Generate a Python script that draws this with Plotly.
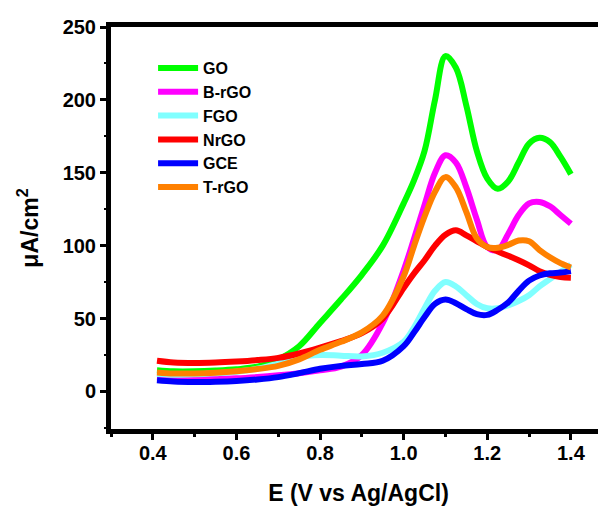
import plotly.graph_objects as go

# Potential (V vs Ag/AgCl)
E = [0.41, 0.45, 0.5, 0.55, 0.6, 0.65, 0.7, 0.75, 0.8, 0.85, 0.9, 0.95, 1.0,
     1.025, 1.05, 1.075, 1.1, 1.125, 1.15, 1.175, 1.2, 1.225, 1.25, 1.275,
     1.3, 1.325, 1.35, 1.375, 1.4]

GO = [14.5, 13.8, 13.8, 14.3, 15.2, 17, 22, 31, 47, 63, 80, 100, 129,
      145, 165, 200, 230, 222, 196, 165, 146, 139, 144, 157,
      170, 174, 171, 161, 149]
B_rGO = [9.5, 8.8, 8.6, 8.8, 9, 9.8, 11, 12.5, 14.5, 17, 25, 47, 83,
         105, 128, 150, 162, 157, 140, 118, 99, 97, 108, 121,
         129, 130, 127, 121, 115]
FGO = [12, 11.5, 11.8, 12.5, 13.5, 15.5, 19, 23.5, 25, 24.5, 24, 26.5, 34,
       44, 57, 69, 75, 72, 66, 60, 57, 57, 59, 62,
       66, 72, 77, 82, 87]
NrGO = [21, 19.8, 19.5, 19.8, 20.5, 21.5, 23, 26, 30, 34.5, 40, 50, 71,
        81, 90, 100, 107.5, 110.5, 107, 103, 99, 96, 93, 90,
        86.5, 82.5, 80, 78.5, 78]
GCE = [7.7, 6.8, 6.5, 6.7, 7.2, 8.2, 9.8, 12.5, 15.5, 17.5, 18.8, 21, 31,
       40.5, 51, 60, 63, 60.5, 56.5, 53, 52.5, 56, 61, 69,
       76, 79.5, 81, 81.5, 82.5]
T_rGO = [13, 12.3, 12.3, 12.8, 13.8, 15.3, 17.5, 22, 28.5, 34, 40.5, 52, 79,
         100, 120, 137, 147, 140, 123, 105, 99, 98.5, 100.5, 103.5,
         103, 97, 92, 88, 85]

series = [
    ("GO", GO, "#00FF00"),
    ("B-rGO", B_rGO, "#FF00FF"),
    ("FGO", FGO, "#80FFFF"),
    ("NrGO", NrGO, "#FF0000"),
    ("GCE", GCE, "#0000FF"),
    ("T-rGO", T_rGO, "#FF8000"),
]

x_ticks = [0.4, 0.6, 0.8, 1.0, 1.2, 1.4]
x_labels = ["0.4", "0.6", "0.8", "1.0", "1.2", "1.4"]
y_ticks = [0, 50, 100, 150, 200, 250]

FONT = "Liberation Sans, Arial, sans-serif"

fig = go.Figure()
for name, vals, color in series:
    fig.add_trace(go.Scatter(
        x=E, y=vals, name=name, mode="lines",
        line=dict(color=color, width=6, shape="spline", smoothing=1.0),
        hoverinfo="skip",
    ))

# the page body has an 8px margin, so the figure is shifted by 8px
fig.update_layout(
    width=606, height=508,
    margin=dict(l=103, r=8, t=19, b=87),
    paper_bgcolor="white", plot_bgcolor="white",
    font=dict(family=FONT, color="black"),
    showlegend=True,
    legend=dict(
        x=0.085, y=0.94, xanchor="left", yanchor="top",
        bgcolor="rgba(0,0,0,0)", borderwidth=0,
        font=dict(family=FONT, size=16, weight="bold", color="black"),
        itemwidth=40,
    ),
    xaxis=dict(
        range=[0.3, 1.484], automargin=False,
        tickvals=x_ticks, ticktext=x_labels,
        ticks="outside", ticklen=6, tickwidth=3, tickcolor="black",
        ticklabelstandoff=-4,
        minor=dict(ticks="outside", ticklen=3, tickwidth=3, tickcolor="black", dtick=0.1, tick0=0.3),
        showline=True, linewidth=5, linecolor="black", mirror=True,
        showgrid=False, zeroline=False,
        tickfont=dict(family=FONT, size=20, weight="bold", color="black"),
        title=dict(text="E (V vs Ag/AgCl)", standoff=23,
                   font=dict(family=FONT, size=23, weight="bold", color="black")),
    ),
    yaxis=dict(
        range=[-25.8, 250], automargin=False,
        tickvals=y_ticks,
        ticks="outside", ticklen=6, tickwidth=3, tickcolor="black",
        minor=dict(ticks="outside", ticklen=2, tickwidth=2, tickcolor="black", dtick=25, tick0=0),
        showline=True, linewidth=5, linecolor="black", mirror=False,
        showgrid=False, zeroline=False,
        tickfont=dict(family=FONT, size=20, weight="bold", color="black"),
        title=dict(text="μA/cm<sup>2</sup>", standoff=19,
                   font=dict(family=FONT, size=23, weight="bold", color="black")),
    ),
)

fig.write_html("out.html")
